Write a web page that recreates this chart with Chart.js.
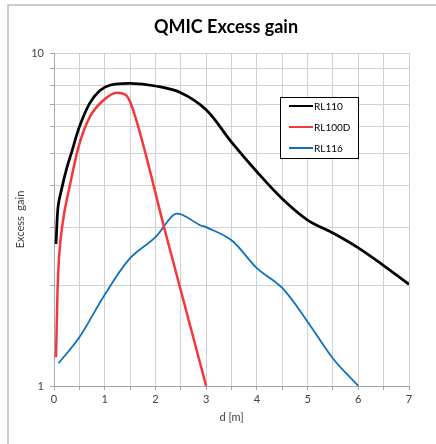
<!DOCTYPE html>
<html>
<head>
<meta charset="utf-8">
<script src="https://cdn.jsdelivr.net/npm/chart.js@4.4.1/dist/chart.umd.min.js"></script>
<style>
  html, body { margin: 0; padding: 0; background: #fff; }
  #wrap { width: 436px; height: 444px; }
</style>
</head>
<body>
<div id="wrap"><canvas id="chart" width="436" height="444"></canvas></div>
<script>
// values (x in m, gain on log scale)
var titleText = 'QMIC Excess gain';
var seriesNames = ['RL110', 'RL100D', 'RL116'];
var seriesColors = ['#000000', '#f5373a', '#0a70bd'];

var rl110X = [0.04, 0.08, 0.15, 0.25, 0.35, 0.5, 0.7, 0.9, 1.1, 1.5, 2, 2.5, 3, 3.5, 4, 4.5, 5, 5.5, 6, 6.5, 7];
var rl110Y = [2.67, 3.45, 3.9, 4.5, 5.05, 6.0, 7.05, 7.7, 8.0, 8.1, 7.96, 7.6, 6.75, 5.4, 4.4, 3.65, 3.15, 2.88, 2.6, 2.3, 2.02];

var rl100dX = [0.04, 0.07, 0.1, 0.18, 0.32, 0.48, 0.7, 0.97, 1.24, 1.43, 1.56, 2.2, 3];
var rl100dY = [1.22, 1.95, 2.45, 3.15, 4.05, 5.2, 6.4, 7.2, 7.6, 7.45, 6.75, 2.88, 1.0];

var rl116X = [0.09, 0.5, 1, 1.5, 2, 2.35, 2.5, 2.88, 3, 3.5, 4, 4.5, 5, 5.5, 6];
var rl116Y = [1.17, 1.4, 1.88, 2.42, 2.8, 3.26, 3.28, 3.04, 3.0, 2.74, 2.26, 1.97, 1.56, 1.21, 1.0];

var xLabels = [0, 1, 2, 3, 4, 5, 6, 7];
var yGrid = [1, 2, 3, 4, 5, 6, 7, 8, 9, 10];
var yLabels = [1, 10];

function pts(xs, ys) {
    return xs.map(function(x, i) { return {x: x, y: ys[i]}; });
}

var frame = {
    id: 'frame',
    beforeDraw: function(chart) {
        var ctx = chart.ctx;
        ctx.save();
        ctx.fillStyle = '#fff';
        ctx.fillRect(0, 0, chart.width, chart.height);
        ctx.strokeStyle = '#bcbcbc';
        ctx.lineWidth = 1.5;
        ctx.beginPath();
        ctx.moveTo(8, chart.height);
        ctx.lineTo(8, 5);
        ctx.lineTo(chart.width, 5);
        ctx.stroke();
        ctx.restore();
    },
    afterDraw: function(chart) {
        var ctx = chart.ctx;
        ctx.save();
        // title
        ctx.fillStyle = '#000';
        ctx.font = 'bold 18px Lato';
        ctx.textAlign = 'center';
        ctx.textBaseline = 'middle';
        ctx.fillText(titleText, 226, 27);

        // legend box
        var bx = 280, by = 97, bw = 78, bh = 61;
        ctx.fillStyle = '#fff';
        ctx.fillRect(bx, by, bw, bh);
        ctx.strokeStyle = '#000';
        ctx.lineWidth = 1;
        ctx.strokeRect(bx + 0.5, by + 0.5, bw, bh);
        ctx.font = '10px Lato';
        ctx.textAlign = 'left';
        chart.data.datasets.forEach(function(ds, i) {
            var y = 106 + i * 21;
            ctx.strokeStyle = ds.borderColor;
            ctx.lineWidth = 2;
            ctx.beginPath();
            ctx.moveTo(289, y);
            ctx.lineTo(313, y);
            ctx.stroke();
            ctx.fillStyle = '#000';
            ctx.fillText(ds.label, 314, y + 0.5);
        });
        ctx.restore();
    }
};

new Chart(document.getElementById('chart'), {
    type: 'line',
    data: {
        datasets: [{
            label: seriesNames[0],
            data: pts(rl110X, rl110Y),
            borderColor: seriesColors[0],
            borderWidth: 2.75,
            tension: 0.35
        }, {
            label: seriesNames[1],
            data: pts(rl100dX, rl100dY),
            borderColor: seriesColors[1],
            borderWidth: 2.5,
            cubicInterpolationMode: 'monotone'
        }, {
            label: seriesNames[2],
            data: pts(rl116X, rl116Y),
            borderColor: seriesColors[2],
            borderWidth: 1.75,
            tension: 0.35
        }]
    },
    options: {
        responsive: false,
        animation: false,
        layout: {
            padding: {left: 0, right: 27, top: 53, bottom: 0}
        },
        elements: {
            point: { radius: 0 },
            line: { fill: false }
        },
        plugins: {
            legend: { display: false },
            title: { display: false },
            tooltip: { enabled: false }
        },
        scales: {
            x: {
                type: 'linear',
                min: 0,
                max: 7,
                afterFit: function(scale) { scale.height = 58; },
                grid: { color: '#d0d0d0', tickLength: 4, tickColor: '#a6a6a6' },
                border: { color: '#a6a6a6' },
                ticks: {
                    stepSize: 0.5,
                    autoSkip: false,
                    maxRotation: 0,
                    padding: 3,
                    color: '#404040',
                    font: { family: 'Lato', size: 11 },
                    callback: function(v) { return xLabels.indexOf(v) >= 0 ? String(v) : ''; }
                },
                title: {
                    display: true,
                    text: 'd [m]',
                    color: '#404040',
                    font: { family: 'Lato', size: 11 },
                    padding: { top: 0, bottom: 20 }
                }
            },
            y: {
                type: 'logarithmic',
                min: 1,
                max: 10,
                afterFit: function(scale) { scale.width = 54; },
                afterBuildTicks: function(scale) {
                    scale.ticks = yGrid.map(function(v) { return {value: v, major: v === 1 || v === 10}; });
                },
                grid: { color: '#d0d0d0', tickLength: 4, tickColor: '#a6a6a6' },
                border: { color: '#a6a6a6' },
                ticks: {
                    autoSkip: false,
                    padding: 6,
                    color: '#404040',
                    font: { family: 'Lato', size: 11 },
                    callback: function(v) { return yLabels.indexOf(v) >= 0 ? String(v) : ''; }
                },
                title: {
                    display: true,
                    text: 'Excess  gain',
                    color: '#404040',
                    font: { family: 'Lato', size: 11 },
                    padding: { top: 14, bottom: 0 }
                }
            }
        }
    },
    plugins: [frame]
});
</script>
</body>
</html>
